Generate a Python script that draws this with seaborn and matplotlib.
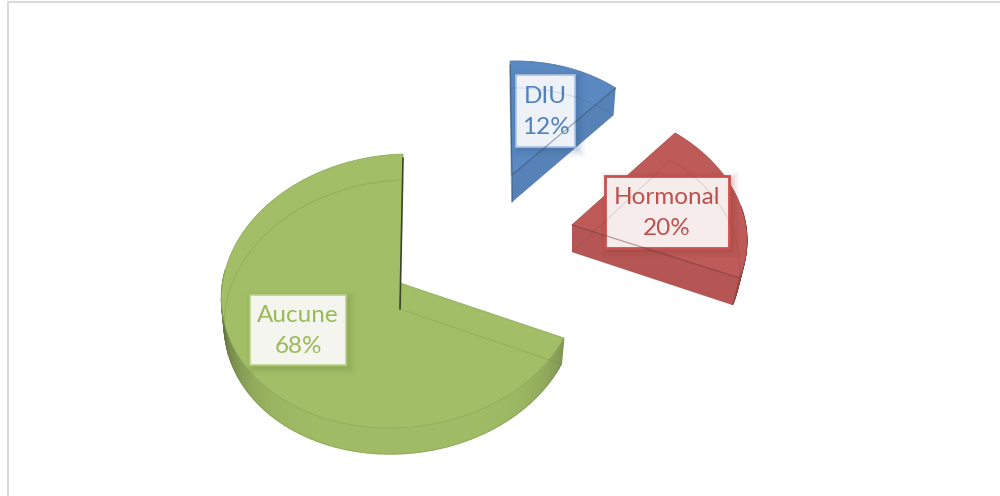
#!/usr/bin/env python3

import numpy as np
import matplotlib
matplotlib.use('Agg')
import matplotlib.pyplot as plt
from matplotlib.colors import to_rgb
from matplotlib.patches import Polygon, Rectangle
import seaborn as sns

# Chart data
methods = ['DIU', 'Hormonal', 'Aucune']
shares = [12, 20, 68]
slice_colors = ['#4F81BD', '#C0504D', '#9BBB59']
top_colors = ['#5A88C0', '#BE5A58', '#A2BE66']
box_fills = ['#EEF2F8', '#F6ECEB', '#F3F5EE']
box_edges = ['#A9C3E3', '#C9504E', '#BBD08A']
box_edge_widths = [1.2, 2.0, 1.2]

# Where each exploded slice sits on the page (pixels): apex, unit vectors, depth
apex = [(512, 175), (572, 225), (400, 283)]
unit_x = [(160, -4), (173, -3.4), (178, -5)]
unit_y = [(-2, -120.6), (-15, -128.4), (3.2, -136.5)]
depth = [27, 27, 26]
base_shrink = [0.98, 0.96, 0.985]

# Label boxes: left, top, width, height
label_boxes = [(516, 75, 59, 72), (605, 176, 124, 72), (250, 295, 96, 70)]

PERSPECTIVE = 0.0584

sns.set_theme(style='white')
plt.rcParams['font.family'] = ['Lato', 'DejaVu Sans']


def project(theta, idx, radius=1.0, bottom=False):
    """Map a clockwise-from-12 angle on slice idx to page pixels."""
    s, c = np.sin(theta) * radius, np.cos(theta) * radius
    f = 1 / (1 + PERSPECTIVE * c)
    x = apex[idx][0] + (unit_x[idx][0] * s + unit_y[idx][0] * c) * f * (base_shrink[idx] if bottom else 1)
    y = apex[idx][1] + (unit_x[idx][1] * s + unit_y[idx][1] * c) * f
    if bottom:
        y = y + depth[idx]
    return np.column_stack([x, y])


def mix(color, other, amount):
    a, b = np.array(to_rgb(color)), np.array(to_rgb(other))
    return tuple(a * (1 - amount) + b * amount)


def draw_slice(ax, idx, start, end):
    angles = np.linspace(start, end, 120)
    top_arc = project(angles, idx)
    low_arc = project(angles, idx, bottom=True)
    top_apex = project(np.array([0.0]), idx, radius=0)
    low_apex = project(np.array([0.0]), idx, radius=0, bottom=True)
    base = top_colors[idx]
    dark = sns.dark_palette(slice_colors[idx], n_colors=6)[2]

    # outer wall, shaded towards both ends
    for i in range(len(angles) - 1):
        mid = (angles[i] + angles[i + 1]) / 2
        if np.cos(mid) > 0.12:
            continue
        quad = [top_arc[i], top_arc[i + 1], low_arc[i + 1], low_arc[i]]
        amount = 0.03 + 0.75 * (abs(np.sin(mid)) ** 6)
        color = mix(base, dark, amount)
        ax.add_patch(Polygon(quad, closed=True, fc=color, ec=color, lw=1.0))

    # radial wall facing the viewer
    if 0 < end < np.pi:
        wall = [top_apex[0], top_arc[-1], low_arc[-1], low_apex[0]]
        ax.add_patch(Polygon(wall, closed=True, fc=mix(base, dark, 0.1), ec='none'))

    # top face
    face = np.vstack([top_apex, top_arc])
    ax.add_patch(Polygon(face, closed=True, fc=base, ec=mix(base, dark, 0.2), lw=0.6))

    # base of the slice seen through the translucent top
    outline = np.vstack([low_apex, low_arc, low_apex])
    ax.plot(outline[:, 0], outline[:, 1], color=dark, lw=0.7, alpha=0.16)
    if 0 < end < np.pi:
        ax.plot([top_apex[0][0], top_arc[-1][0]], [top_apex[0][1], top_arc[-1][1]],
                color=dark, lw=0.9, alpha=0.45)

    # dark sliver of the wall seen edge-on at 12 o'clock
    for theta, arc in ((start, top_arc[0]), (end, top_arc[-1])):
        if abs(np.cos(theta) - 1) < 1e-6:
            ax.plot([arc[0], low_apex[0][0]], [arc[1] + 4, low_apex[0][1]],
                    color='#2E3A1C' if idx == 2 else dark, lw=1.2, alpha=0.9 if idx == 2 else 0.5)


def draw_label(ax, idx):
    left, top, width, height = label_boxes[idx]
    # soft shadow
    for grow, alpha in ((7, 0.04), (5, 0.05), (3, 0.07), (1, 0.09)):
        ax.add_patch(Rectangle((left - grow + 3, top - grow + 3), width + 2 * grow, height + 2 * grow,
                               fc=mix(slice_colors[idx], 'black', 0.3), ec='none', alpha=alpha))
    ax.add_patch(Rectangle((left, top), width, height, fc=box_fills[idx], ec=box_edges[idx],
                           lw=box_edge_widths[idx]))
    ax.text(left + width / 2, top + height / 2 + 1, f'{methods[idx]}\n{shares[idx]}%',
            ha='center', va='center', color=slice_colors[idx], fontsize=17.5, linespacing=1.6)


def main():
    fig = plt.figure(figsize=(10, 4.96), dpi=100)
    ax = fig.add_axes([0, 0, 1, 1])
    ax.set_xlim(0, 1000)
    ax.set_ylim(496, 0)
    ax.axis('off')

    # chart frame
    ax.plot([8, 8, 1000], [496, 2, 2], color='#D9D9D9', lw=1.4)

    edges = np.concatenate([[0], np.cumsum(shares)]) / np.sum(shares) * 2 * np.pi
    for idx in range(len(methods)):
        draw_slice(ax, idx, edges[idx], edges[idx + 1])
    for idx in range(len(methods)):
        draw_label(ax, idx)

    fig.savefig('out.png', dpi=100)
    plt.close(fig)


if __name__ == '__main__':
    main()
